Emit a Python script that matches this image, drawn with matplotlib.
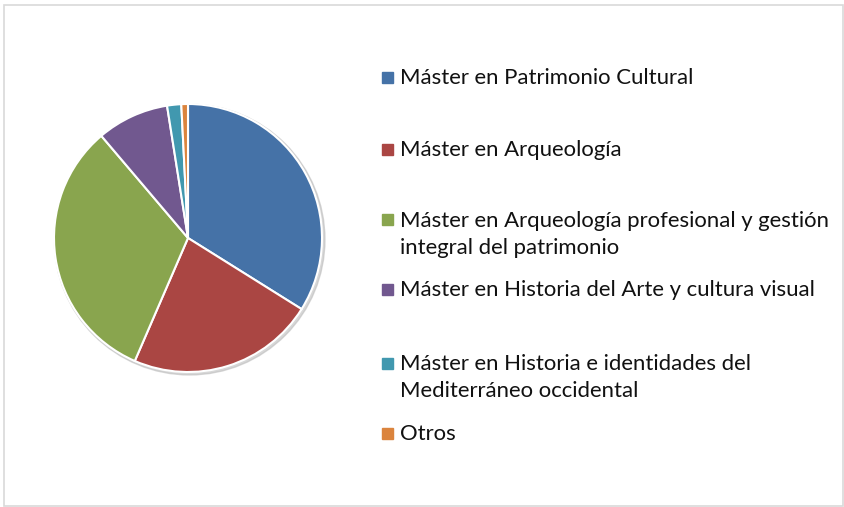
import matplotlib
matplotlib.use('agg')
import matplotlib.pyplot as plt
from matplotlib.patches import Rectangle, Circle

# share of students per programme (%)
labels = [
    "Máster en Patrimonio Cultural",
    "Máster en Arqueología",
    "Máster en Arqueología profesional y gestión\nintegral del patrimonio",
    "Máster en Historia del Arte y cultura visual",
    "Máster en Historia e identidades del\nMediterráneo occidental",
    "Otros",
]
values = [33.9, 22.6, 32.3, 8.7, 1.7, 0.8]
colors = ["#4572A7", "#AA4643", "#89A54E", "#71588F", "#4198AF", "#DB843D"]

plt.rcParams['font.family'] = ['Lato', 'DejaVu Sans']

W, H = 844, 507
fig = plt.figure(figsize=(W / 100, H / 100), dpi=100)

# light grey frame round the chart area
fig.patches.append(Rectangle((3.5 / W, 1 - 505.5 / H), 839.5 / W, 501 / H,
                             transform=fig.transFigure, fill=False,
                             edgecolor="#d9d9d9", linewidth=1.2))

cx, cy, r = 188, 238, 134
ax = fig.add_axes([(cx - r) / W, 1 - (cy + r) / H, 2 * r / W, 2 * r / H])
# soft shadow behind the pie
ax.add_patch(Circle((0.012, -0.012), 1.01, color="#bdbdbd", alpha=0.6,
                    zorder=0, clip_on=False))
wedges, _ = ax.pie(values, colors=colors, startangle=90, counterclock=False,
                   wedgeprops=dict(edgecolor="white", linewidth=1.5))
for w in wedges:
    w.set_clip_on(False)
ax.set_xlim(-1, 1)
ax.set_ylim(-1, 1)
ax.set_aspect('equal')
ax.axis('off')

# legend drawn by hand to keep Excel's uneven spacing
baselines = [84, 156, 227, 296, 370, 440]
for lab, col, y in zip(labels, colors, baselines):
    fig.patches.append(Rectangle((381.5 / W, 1 - (y - 1.5) / H), 11 / W, 11 / H,
                                 transform=fig.transFigure, color=col))
    for i, line in enumerate(lab.split("\n")):
        fig.text(400 / W, 1 - (y + 27 * i) / H, line, fontsize=15.9,
                 va='baseline', ha='left', color="#111111")

fig.savefig("out.png", dpi=100, facecolor="white")
